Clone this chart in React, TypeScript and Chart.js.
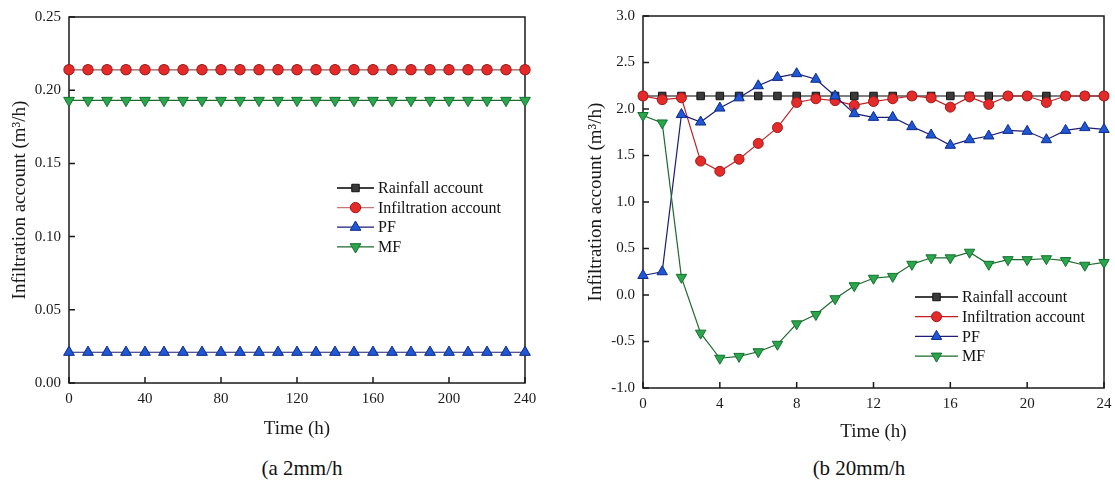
import React, { useEffect, useRef } from "react";
import { Chart, registerables } from "chart.js";

Chart.register(...registerables);

const FONT = '"Liberation Serif", "Times New Roman", Times, serif';

// ---------- data ----------
const seriesNames = ["Rainfall account", "Infiltration account", "PF", "MF"];

// (a) 2 mm/h
const timeA = [0, 10, 20, 30, 40, 50, 60, 70, 80, 90, 100, 110, 120, 130, 140, 150, 160, 170, 180, 190, 200, 210, 220, 230, 240];
const rainfallA = [0.214, 0.214, 0.214, 0.214, 0.214, 0.214, 0.214, 0.214, 0.214, 0.214, 0.214, 0.214, 0.214, 0.214, 0.214, 0.214, 0.214, 0.214, 0.214, 0.214, 0.214, 0.214, 0.214, 0.214, 0.214];
const infiltrationA = [0.214, 0.214, 0.214, 0.214, 0.214, 0.214, 0.214, 0.214, 0.214, 0.214, 0.214, 0.214, 0.214, 0.214, 0.214, 0.214, 0.214, 0.214, 0.214, 0.214, 0.214, 0.214, 0.214, 0.214, 0.214];
const pfA = [0.021, 0.021, 0.021, 0.021, 0.021, 0.021, 0.021, 0.021, 0.021, 0.021, 0.021, 0.021, 0.021, 0.021, 0.021, 0.021, 0.021, 0.021, 0.021, 0.021, 0.021, 0.021, 0.021, 0.021, 0.021];
const mfA = [0.193, 0.193, 0.193, 0.193, 0.193, 0.193, 0.193, 0.193, 0.193, 0.193, 0.193, 0.193, 0.193, 0.193, 0.193, 0.193, 0.193, 0.193, 0.193, 0.193, 0.193, 0.193, 0.193, 0.193, 0.193];

// (b) 20 mm/h
const timeB = [0, 1, 2, 3, 4, 5, 6, 7, 8, 9, 10, 11, 12, 13, 14, 15, 16, 17, 18, 19, 20, 21, 22, 23, 24];
const rainfallB = [2.14, 2.14, 2.14, 2.14, 2.14, 2.14, 2.14, 2.14, 2.14, 2.14, 2.14, 2.14, 2.14, 2.14, 2.14, 2.14, 2.14, 2.14, 2.14, 2.14, 2.14, 2.14, 2.14, 2.14, 2.14];
const infiltrationB = [2.14, 2.1, 2.12, 1.44, 1.33, 1.46, 1.63, 1.8, 2.07, 2.11, 2.09, 2.04, 2.08, 2.11, 2.14, 2.12, 2.02, 2.13, 2.05, 2.14, 2.14, 2.07, 2.14, 2.14, 2.14];
const pfB = [0.21, 0.25, 1.94, 1.86, 2.01, 2.12, 2.25, 2.34, 2.38, 2.32, 2.14, 1.95, 1.91, 1.91, 1.81, 1.72, 1.61, 1.67, 1.71, 1.77, 1.76, 1.67, 1.77, 1.8, 1.78];
const mfB = [1.93, 1.85, 0.19, -0.41, -0.68, -0.66, -0.61, -0.53, -0.31, -0.21, -0.04, 0.1, 0.18, 0.2, 0.33, 0.4, 0.4, 0.46, 0.33, 0.38, 0.38, 0.39, 0.37, 0.32, 0.35];

// ---------- styles ----------
const styleA = [
  { line: "#000000", fill: "#3a3a3a", edge: "#111111", shape: "rect", r: 5.3, rot: 0 },
  { line: "#c07878", fill: "#e52a2a", edge: "#a01818", shape: "circle", r: 5.2, rot: 0 },
  { line: "#1c1c78", fill: "#1f57d4", edge: "#0d2a8a", shape: "triangle", r: 6.2, rot: 0 },
  { line: "#1d6a2c", fill: "#2ca64c", edge: "#12702e", shape: "triangle", r: 6.2, rot: 180 },
];
const styleB = [
  { line: "#000000", fill: "#3a3a3a", edge: "#111111", shape: "rect", r: 5.3, rot: 0 },
  { line: "#c02024", fill: "#e52a2a", edge: "#a01818", shape: "circle", r: 5, rot: 0 },
  { line: "#1c1c78", fill: "#1f57d4", edge: "#0d2a8a", shape: "triangle", r: 6, rot: 0 },
  { line: "#1d6a2c", fill: "#2ca64c", edge: "#12702e", shape: "triangle", r: 6, rot: 180 },
];

function drawMarker(ctx: CanvasRenderingContext2D, shape: string, x: number, y: number, r: number, rot: number) {
  ctx.beginPath();
  if (shape === "circle") {
    ctx.arc(x, y, r, 0, Math.PI * 2);
  } else if (shape === "rect") {
    const s = Math.SQRT1_2 * r;
    ctx.rect(x - s, y - s, 2 * s, 2 * s);
  } else {
    let rad = (rot * Math.PI) / 180;
    ctx.moveTo(x + Math.sin(rad) * r, y - Math.cos(rad) * r);
    rad += (2 * Math.PI) / 3;
    ctx.lineTo(x + Math.sin(rad) * r, y - Math.cos(rad) * r);
    rad += (2 * Math.PI) / 3;
    ctx.lineTo(x + Math.sin(rad) * r, y - Math.cos(rad) * r);
    ctx.closePath();
  }
  ctx.fill();
  ctx.stroke();
}

const framePlugin = {
  id: "frameTicks",
  beforeDatasetsDraw(chart: any) {
    const { ctx, chartArea: a, scales } = chart;
    ctx.save();
    ctx.strokeStyle = "#1a1a1a";
    ctx.lineWidth = 1.5;
    ctx.strokeRect(a.left, a.top, a.right - a.left, a.bottom - a.top);
    const len = 6;
    ctx.beginPath();
    scales.x.ticks.forEach((t: any) => {
      const px = scales.x.getPixelForValue(t.value);
      ctx.moveTo(px, a.bottom);
      ctx.lineTo(px, a.bottom - len);
    });
    scales.y.ticks.forEach((t: any) => {
      const py = scales.y.getPixelForValue(t.value);
      ctx.moveTo(a.left, py);
      ctx.lineTo(a.left + len, py);
    });
    ctx.stroke();
    ctx.restore();
  },
  afterDraw(chart: any, _args: any, opts: any) {
    const { ctx } = chart;
    const st = opts.styles;
    if (!st) return;
    ctx.save();
    ctx.font = `16px ${FONT}`;
    ctx.textBaseline = "middle";
    ctx.textAlign = "left";
    chart.data.datasets.forEach((ds: any, i: number) => {
      const s = st[i];
      const y = opts.y + i * opts.row;
      ctx.strokeStyle = s.line;
      ctx.lineWidth = 1.3;
      ctx.beginPath();
      ctx.moveTo(opts.x, y);
      ctx.lineTo(opts.x + opts.len, y);
      ctx.stroke();
      ctx.fillStyle = s.fill;
      ctx.strokeStyle = s.edge;
      ctx.lineWidth = 1;
      drawMarker(ctx, s.shape, opts.x + opts.len / 2, y, s.r, s.rot);
      ctx.fillStyle = "#111";
      ctx.fillText(ds.label, opts.x + opts.len + 4, y + 1);
    });
    ctx.restore();
  },
};

type Cfg = {
  xs: number[];
  series: number[][];
  styles: any[];
  xMin: number; xMax: number; xStep: number;
  yMin: number; yMax: number; yStep: number; yDec: number;
  pad: { left: number; top: number; right: number; bottom: number };
  yWidth: number; xHeight: number;
  legend: { x: number; y: number; row: number; len: number };
};

function makeConfig(c: Cfg): any {
  const datasets = c.series.map((vals, i) => {
    const s = c.styles[i];
    return {
      label: seriesNames[i],
      data: c.xs.map((x, j) => ({ x, y: vals[j] })),
      borderColor: s.line,
      borderWidth: 1.2,
      pointStyle: s.shape,
      pointRotation: s.rot,
      pointRadius: s.r,
      pointBackgroundColor: s.fill,
      pointBorderColor: s.edge,
      pointBorderWidth: 1,
      tension: 0,
      clip: false,
      order: 4 - i,
    };
  });
  return {
    type: "line",
    data: { datasets },
    options: {
      responsive: false,
      animation: false,
      devicePixelRatio: 1,
      layout: { padding: c.pad },
      plugins: {
        legend: { display: false },
        tooltip: { enabled: false },
        frameTicks: { styles: c.styles, ...c.legend },
      },
      scales: {
        x: {
          type: "linear",
          min: c.xMin,
          max: c.xMax,
          grid: { display: false, drawTicks: false },
          border: { display: false },
          ticks: {
            stepSize: c.xStep,
            padding: 7,
            color: "#1a1a1a",
            font: { family: FONT, size: 15 },
            maxRotation: 0,
          },
          title: {
            display: true,
            text: "Time (h)",
            color: "#1a1a1a",
            font: { family: FONT, size: 19 },
            padding: 0,
          },
          afterFit: (s: any) => {
            s.height = c.xHeight;
            s.paddingLeft = 0;
            s.paddingRight = 0;
          },
        },
        y: {
          type: "linear",
          min: c.yMin,
          max: c.yMax,
          grid: { display: false, drawTicks: false },
          border: { display: false },
          ticks: {
            stepSize: c.yStep,
            padding: 8,
            color: "#1a1a1a",
            font: { family: FONT, size: 15 },
            callback: (v: any) => Number(v).toFixed(c.yDec),
          },
          title: {
            display: true,
            text: "Infiltration account (m\u00B3/h)",
            color: "#1a1a1a",
            font: { family: FONT, size: 19 },
            padding: 0,
          },
          afterFit: (s: any) => {
            s.width = c.yWidth;
            s.paddingTop = 0;
            s.paddingBottom = 0;
          },
        },
      },
    },
    plugins: [framePlugin],
  };
}

function ChartBox({ cfg, left, width, height }: { cfg: Cfg; left: number; width: number; height: number }) {
  const ref = useRef<HTMLCanvasElement | null>(null);
  useEffect(() => {
    if (!ref.current) return;
    const chart = new Chart(ref.current, makeConfig(cfg));
    return () => chart.destroy();
  }, []);
  return (
    <canvas
      ref={ref}
      width={width}
      height={height}
      style={{ position: "absolute", left, top: 0, width, height }}
    />
  );
}

const cfgA: Cfg = {
  xs: timeA,
  series: [rainfallA, infiltrationA, pfA, mfA],
  styles: styleA,
  xMin: 0, xMax: 240, xStep: 40,
  yMin: 0, yMax: 0.25, yStep: 0.05, yDec: 2,
  pad: { left: 9, top: 17, right: 32, bottom: 5 },
  yWidth: 60, xHeight: 57,
  legend: { x: 337, y: 188, row: 19.6, len: 37 },
};

const cfgB: Cfg = {
  xs: timeB,
  series: [rainfallB, infiltrationB, pfB, mfB],
  styles: styleB,
  xMin: 0, xMax: 24, xStep: 4,
  yMin: -1, yMax: 3, yStep: 0.5, yDec: 1,
  pad: { left: 28, top: 16, right: 11, bottom: 2 },
  yWidth: 58, xHeight: 55,
  legend: { x: 358, y: 297, row: 19.7, len: 43 },
};

const captionStyle: React.CSSProperties = {
  position: "absolute",
  top: 468,
  transform: "translate(-50%, -50%)",
  fontFamily: FONT,
  fontSize: 21,
  color: "#111",
  whiteSpace: "nowrap",
  lineHeight: 1,
};

export default function App() {
  return (
    <div style={{ position: "absolute", left: 0, top: 0, width: 1115, height: 483, background: "#fff", overflow: "hidden" }}>
      <ChartBox cfg={cfgA} left={0} width={557} height={445} />
      <ChartBox cfg={cfgB} left={557} width={558} height={445} />
      <div style={{ ...captionStyle, left: 302 }}>(a 2mm/h</div>
      <div style={{ ...captionStyle, left: 859 }}>(b 20mm/h</div>
    </div>
  );
}
